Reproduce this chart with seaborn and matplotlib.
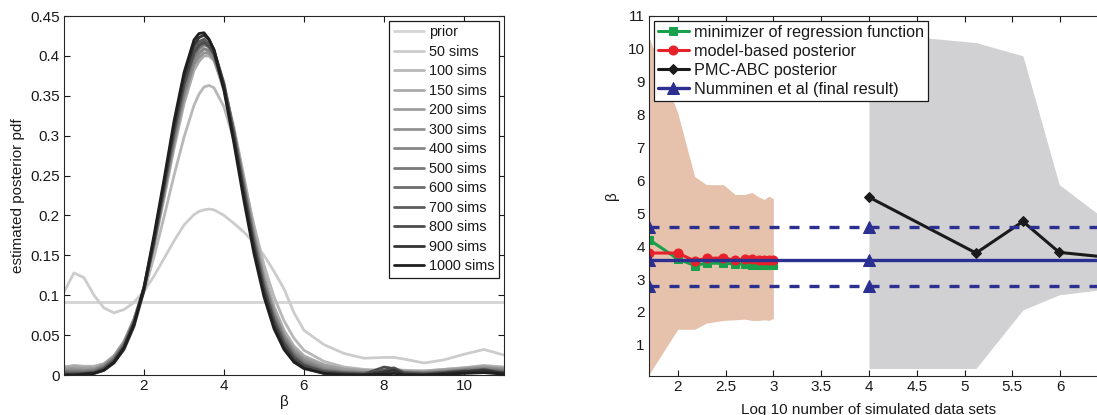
import numpy as np
import pandas as pd
import matplotlib
matplotlib.use("Agg")
import matplotlib.pyplot as plt
import seaborn as sns
from matplotlib.ticker import FormatStrFormatter

# ---- left panel: estimated posterior pdf of beta ----
beta_grid = [0, 0.25, 0.5, 0.75, 1.0, 1.25, 1.5, 1.75, 2.0, 2.25, 2.5, 2.75, 3.0, 3.25, 3.375,
             3.5, 3.625, 3.75, 4.0, 4.25, 4.5, 4.75, 5.0, 5.25, 5.5, 5.75, 6.0, 6.5, 7.0, 7.5,
             8.0, 8.25, 8.5, 9.0, 9.5, 10.0, 10.5, 11.0]

prior_x = [0, 11]
prior_y = [0.0909, 0.0909]

pdf_50 = [0.104, 0.128, 0.122, 0.100, 0.084, 0.078, 0.082, 0.091, 0.105, 0.124, 0.146, 0.168,
          0.188, 0.201, 0.205, 0.207, 0.208, 0.207, 0.200, 0.190, 0.179, 0.166, 0.150, 0.130,
          0.108, 0.078, 0.056, 0.038, 0.027, 0.021, 0.022, 0.022, 0.020, 0.015, 0.019, 0.026,
          0.032, 0.025]
pdf_100 = [0.010, 0.012, 0.011, 0.011, 0.014, 0.024, 0.042, 0.070, 0.104, 0.148, 0.198, 0.250,
           0.298, 0.338, 0.352, 0.361, 0.363, 0.360, 0.336, 0.294, 0.242, 0.188, 0.138, 0.098,
           0.068, 0.046, 0.031, 0.017, 0.010, 0.007, 0.006, 0.007, 0.006, 0.005, 0.007, 0.009,
           0.012, 0.010]
pdf_150 = [0.010, 0.011, 0.010, 0.010, 0.014, 0.024, 0.042, 0.070, 0.108, 0.160, 0.221, 0.284,
           0.340, 0.382, 0.393, 0.400, 0.400, 0.394, 0.362, 0.310, 0.248, 0.184, 0.128, 0.086,
           0.056, 0.036, 0.024, 0.013, 0.008, 0.006, 0.005, 0.006, 0.005, 0.005, 0.007, 0.009,
           0.011, 0.009]
pdf_200 = [0.008, 0.009, 0.008, 0.008, 0.013, 0.023, 0.041, 0.070, 0.110, 0.167, 0.233, 0.300,
           0.358, 0.397, 0.405, 0.409, 0.405, 0.396, 0.356, 0.298, 0.233, 0.170, 0.117, 0.077,
           0.050, 0.032, 0.021, 0.012, 0.007, 0.005, 0.004, 0.005, 0.004, 0.004, 0.006, 0.008,
           0.010, 0.008]
pdf_300 = [0.006, 0.007, 0.006, 0.007, 0.012, 0.022, 0.040, 0.069, 0.108, 0.163, 0.226, 0.291,
           0.348, 0.389, 0.398, 0.404, 0.403, 0.396, 0.360, 0.304, 0.240, 0.176, 0.121, 0.079,
           0.050, 0.030, 0.019, 0.009, 0.005, 0.003, 0.004, 0.005, 0.004, 0.003, 0.005, 0.007,
           0.009, 0.007]
pdf_400 = [0.005, 0.005, 0.005, 0.006, 0.011, 0.021, 0.039, 0.068, 0.108, 0.164, 0.229, 0.295,
           0.353, 0.394, 0.403, 0.409, 0.407, 0.399, 0.362, 0.304, 0.238, 0.173, 0.117, 0.076,
           0.047, 0.028, 0.017, 0.007, 0.004, 0.003, 0.004, 0.005, 0.003, 0.003, 0.004, 0.006,
           0.008, 0.006]
pdf_500 = [0.004, 0.004, 0.004, 0.005, 0.010, 0.020, 0.038, 0.067, 0.108, 0.165, 0.231, 0.299,
           0.358, 0.399, 0.409, 0.414, 0.411, 0.403, 0.364, 0.304, 0.236, 0.170, 0.114, 0.073,
           0.045, 0.026, 0.015, 0.006, 0.003, 0.002, 0.003, 0.004, 0.003, 0.002, 0.004, 0.006,
           0.007, 0.005]
pdf_600 = [0.003, 0.003, 0.003, 0.004, 0.009, 0.019, 0.037, 0.066, 0.108, 0.166, 0.233, 0.302,
           0.362, 0.404, 0.414, 0.419, 0.416, 0.407, 0.366, 0.304, 0.234, 0.167, 0.111, 0.070,
           0.042, 0.024, 0.013, 0.005, 0.003, 0.002, 0.004, 0.005, 0.003, 0.002, 0.003, 0.005,
           0.006, 0.004]
pdf_700 = [0.002, 0.002, 0.002, 0.003, 0.008, 0.018, 0.036, 0.066, 0.110, 0.171, 0.240, 0.310,
           0.370, 0.410, 0.418, 0.421, 0.415, 0.404, 0.360, 0.296, 0.226, 0.160, 0.106, 0.065,
           0.038, 0.021, 0.011, 0.004, 0.002, 0.001, 0.006, 0.009, 0.003, 0.001, 0.002, 0.004,
           0.007, 0.003]
pdf_800 = [0.001, 0.001, 0.002, 0.003, 0.008, 0.018, 0.036, 0.065, 0.108, 0.168, 0.236, 0.305,
           0.364, 0.404, 0.413, 0.417, 0.412, 0.402, 0.360, 0.298, 0.229, 0.164, 0.109, 0.068,
           0.040, 0.022, 0.012, 0.004, 0.002, 0.001, 0.010, 0.008, 0.002, 0.001, 0.003, 0.005,
           0.004, 0.003]
pdf_900 = [0.000, 0.000, 0.001, 0.002, 0.006, 0.015, 0.032, 0.061, 0.106, 0.170, 0.240, 0.312,
           0.373, 0.414, 0.423, 0.426, 0.420, 0.408, 0.362, 0.296, 0.225, 0.158, 0.103, 0.062,
           0.035, 0.018, 0.009, 0.002, 0.001, 0.000, 0.004, 0.006, 0.001, 0.000, 0.002, 0.004,
           0.006, 0.002]
pdf_1000 = [0.000, 0.000, 0.001, 0.002, 0.006, 0.016, 0.034, 0.064, 0.110, 0.175, 0.245, 0.318,
            0.379, 0.420, 0.428, 0.429, 0.421, 0.407, 0.357, 0.290, 0.218, 0.152, 0.098, 0.058,
            0.032, 0.016, 0.008, 0.002, 0.000, 0.000, 0.001, 0.002, 0.000, 0.000, 0.001, 0.002,
            0.003, 0.001]

sim_labels = ["50 sims", "100 sims", "150 sims", "200 sims", "300 sims", "400 sims", "500 sims",
              "600 sims", "700 sims", "800 sims", "900 sims", "1000 sims"]
sim_pdfs = [pdf_50, pdf_100, pdf_150, pdf_200, pdf_300, pdf_400, pdf_500,
            pdf_600, pdf_700, pdf_800, pdf_900, pdf_1000]
grey_levels = [0.83, 0.80, 0.72, 0.67, 0.62, 0.57, 0.52, 0.47, 0.42, 0.36, 0.30, 0.20, 0.12]

# ---- right panel: beta estimates vs log10 number of simulations ----
log_sims = [1.699, 2.0, 2.176, 2.301, 2.477, 2.602, 2.699, 2.778, 2.845, 2.903, 2.954, 3.0]
band_hi = [10.35, 8.05, 6.12, 5.87, 5.87, 5.57, 5.57, 5.63, 5.50, 5.42, 5.52, 5.44]
band_lo = [0.10, 1.47, 1.47, 1.66, 1.74, 1.76, 1.78, 1.74, 1.74, 1.76, 1.74, 1.80]
minimizer = [4.20, 3.61, 3.41, 3.48, 3.48, 3.46, 3.46, 3.44, 3.42, 3.42, 3.43, 3.44]
model_post = [3.79, 3.79, 3.55, 3.63, 3.64, 3.57, 3.60, 3.60, 3.57, 3.58, 3.57, 3.58]

pmc_x = [4.0, 5.12, 5.61, 5.99, 6.5]
pmc_beta = [5.49, 3.79, 4.75, 3.81, 3.66]
pmc_hi = [10.5, 10.19, 9.79, 5.87, 4.75]
pmc_lo = [0.28, 0.28, 2.06, 2.52, 2.70]

numminen_x = [1.699, 4.0, 7.0]
numminen_mid = [3.58, 3.58, 3.58]
numminen_hi = [4.57, 4.57, 4.57]
numminen_lo = [2.80, 2.80, 2.80]

right_xticks = [2, 2.5, 3, 3.5, 4, 4.5, 5, 5.5, 6, 6.5]
right_xticklabels = ["2", "2.5", "3", "3.5", "4", "4.5", "5", "5.5", "6", ""]

# ---- style ----
sns.set_style("ticks", {"xtick.direction": "in", "ytick.direction": "in"})
plt.rcParams["font.family"] = ["Liberation Sans", "DejaVu Sans"]
plt.rcParams["font.size"] = 11
txt = "#1a1a1a"
plt.rcParams["text.color"] = txt
plt.rcParams["axes.labelcolor"] = txt
plt.rcParams["xtick.color"] = txt
plt.rcParams["ytick.color"] = txt
plt.rcParams["axes.edgecolor"] = "#262626"
plt.rcParams["axes.linewidth"] = 0.8

W, H = 1097, 415
fig = plt.figure(figsize=(W / 100, H / 100), dpi=100)
ax1 = fig.add_axes([64 / W, 40 / H, 440 / W, 359 / H])
ax2 = fig.add_axes([649 / W, 39 / H, 459 / W, 360 / H])

# left: one long table, lines drawn light to dark
rows = [pd.DataFrame({"beta": prior_x, "pdf": prior_y, "curve": "prior"})]
for lab, vals in zip(sim_labels, sim_pdfs):
    rows.append(pd.DataFrame({"beta": beta_grid, "pdf": vals, "curve": lab}))
df_pdf = pd.concat(rows, ignore_index=True)
curve_order = ["prior"] + sim_labels
palette = {c: (g, g, g) for c, g in zip(curve_order, grey_levels)}

sns.lineplot(data=df_pdf, x="beta", y="pdf", hue="curve", hue_order=curve_order,
             palette=palette, linewidth=2.0, estimator=None, sort=False,
             legend=False, ax=ax1, solid_joinstyle="round")
ax1.set_xlim(0, 11)
ax1.set_ylim(0, 0.45)
ax1.set_xticks([2, 4, 6, 8, 10])
ax1.set_yticks(np.arange(0, 0.46, 0.05))
ax1.yaxis.set_major_formatter(FormatStrFormatter("%g"))
ax1.set_xlabel("β", labelpad=1)
ax1.set_ylabel("estimated posterior pdf", labelpad=4)
leg1 = ax1.legend(ax1.get_lines(), curve_order, loc="upper right", fontsize=10.4,
                  frameon=True, fancybox=False, framealpha=1, edgecolor="#1a1a1a",
                  borderaxespad=0.35, labelspacing=0.38, handlelength=2.1,
                  handletextpad=0.35, borderpad=0.3)
leg1.get_frame().set_linewidth(0.9)

# right panel
orange_band = (0.90, 0.76, 0.68)
grey_band = (0.82, 0.82, 0.83)
green = "#19a04b"
red = "#e8202a"
navy = "#2b2f8f"

ax2.fill_between(log_sims, band_lo, band_hi, color=orange_band, linewidth=0)
ax2.fill_between(pmc_x, pmc_lo, pmc_hi, color=grey_band, linewidth=0)

sns.lineplot(x=log_sims, y=minimizer, color=green, marker="s", markersize=6,
             markeredgecolor=green, linewidth=2.2, sort=False, ax=ax2,
             label="minimizer of regression function")
sns.lineplot(x=log_sims, y=model_post, color=red, marker="o", markersize=6.5,
             markeredgecolor=red, linewidth=2.2, sort=False, ax=ax2,
             label="model-based posterior")
sns.lineplot(x=pmc_x, y=pmc_beta, color="#1a1a1a", marker="D", markersize=5.5,
             markeredgecolor="#1a1a1a", linewidth=2.2, sort=False, ax=ax2,
             label="PMC-ABC posterior")
sns.lineplot(x=numminen_x, y=numminen_mid, color=navy, marker="^", markersize=8,
             markeredgecolor=navy, linewidth=2.4, sort=False, ax=ax2,
             label="Numminen et al (final result)")
for band in (numminen_hi, numminen_lo):
    sns.lineplot(x=numminen_x, y=band, color=navy, marker="^", markersize=8,
                 markeredgecolor=navy, linewidth=2.4, linestyle=(0, (3, 3)),
                 sort=False, ax=ax2, legend=False)

ax2.set_xlim(1.699, 6.5)
ax2.set_ylim(0.05, 11)
ax2.set_xticks(right_xticks)
ax2.set_xticklabels(right_xticklabels)
ax2.set_yticks(range(1, 12))
ax2.set_xlabel("Log 10 number of simulated data sets", labelpad=1)
ax2.xaxis.set_label_coords(0.479, -0.075)
ax2.set_ylabel("β", labelpad=6)
leg2 = ax2.legend(loc="upper left", fontsize=11.7, frameon=True, fancybox=False,
                  framealpha=1, edgecolor="#1a1a1a", borderaxespad=0.3,
                  labelspacing=0.24, handlelength=1.9, handletextpad=0.3,
                  borderpad=0.25)
leg2.get_frame().set_linewidth(0.9)

for ax in (ax1, ax2):
    ax.tick_params(which="both", top=True, right=True, length=4, width=0.8, labelsize=11, pad=3)
    for s in ax.spines.values():
        s.set_visible(True)

fig.savefig("out.png", dpi=100)
